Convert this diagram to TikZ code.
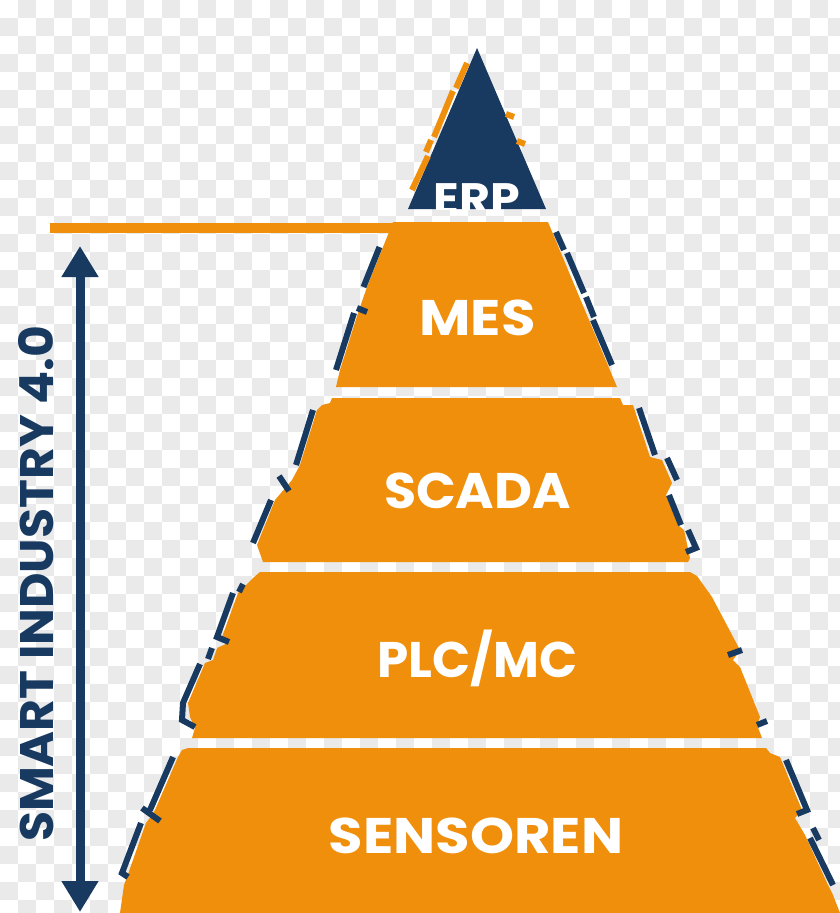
\documentclass[tikz,border=0pt]{standalone}
\usepackage{fontspec}
\setmainfont{Poppins}
\usetikzlibrary{arrows.meta}

\definecolor{pyrorange}{RGB}{240,143,12}
\definecolor{pyrnavy}{RGB}{24,58,96}
\definecolor{checkgray}{RGB}{234,234,234}

\tikzset{
    layer/.style={fill=pyrorange},
    toplayer/.style={fill=pyrnavy},
    levelname/.style={text=white, anchor=base, inner sep=0pt,
        font=\fontsize{50}{50}\selectfont\bfseries},
    glitch/.style={pyrnavy, line width=6pt},
    glitchor/.style={pyrorange, line width=6pt},
    orangebar/.style={pyrorange, line width=10pt},
    sidearrow/.style={pyrnavy, line width=9pt,
        {Triangle[width=35pt,length=31pt]}-{Triangle[width=35pt,length=31pt]}},
    sidetext/.style={text=pyrnavy, rotate=90, anchor=base, inner sep=0pt,
        font=\fontsize{47}{47}\selectfont\bfseries}
}

\begin{document}
\begin{tikzpicture}[x=1pt, y=-1pt]
    \useasboundingbox (0,0) rectangle (840,913);

    % --- Background checker ---
    \begin{scope}
        \clip (0,0) rectangle (840,913);
        \fill[white] (0,0) rectangle (840,913);
        \foreach \i in {0,...,46}{
            \foreach \j in {0,...,50}{
                \pgfmathtruncatemacro\odd{mod(\i+\j,2)}
                \ifnum\odd=1 \fill[checkgray] (\i*18,\j*18) rectangle ++(18,18); \fi
            }
        }
    \end{scope}

    % --- Coordinates ---
    % ERP tip
    \coordinate (erp_top) at (477,48);
    \coordinate (erp_bl) at (408,209);
    \coordinate (erp_br) at (546,209);
    % MES
    \coordinate (mes_tl) at (393,222);
    \coordinate (mes_tr) at (548,222);
    \coordinate (mes_br) at (617,387);
    \coordinate (mes_bl) at (336,387);
    % SCADA
    \coordinate (scada_tl) at (332,398);
    \coordinate (scada_tr) at (620,398);
    \coordinate (scada_br) at (688,562);
    \coordinate (scada_bl) at (263,562);
    % PLC/MC
    \coordinate (plc_tl) at (260,572);
    \coordinate (plc_tr) at (690,572);
    \coordinate (plc_br) at (762,738);
    \coordinate (plc_bl) at (192,738);
    % Sensoren
    \coordinate (sens_tl) at (188,748);
    \coordinate (sens_tr) at (766,748);
    \coordinate (sens_br) at (840,913);
    \coordinate (sens_bl) at (120,913);
    % Side arrow and bar
    \coordinate (arr_top) at (80,246);
    \coordinate (arr_bot) at (80,912);
    \coordinate (bar_left) at (50,228);
    \coordinate (bar_right) at (400,228);

    % --- Layers (jagged sides) ---
    \fill[toplayer] (erp_top) -- (erp_br) -- (erp_bl) -- cycle;
    \fill[layer] (mes_tl) -- (mes_tr) -- (mes_br) -- (mes_bl) -- (340,370) -- (358,313)
        -- (367,287) -- (383,247) -- cycle;
    \fill[layer] (scada_tl) -- (scada_tr) -- (623,405) -- (633,405) -- (650,457) -- (662,460)
        -- (672,483) -- (666,495) -- (678,525) -- (684,530) -- (690,558) -- (scada_br)
        -- (scada_bl) -- (257,545) -- (275,500) -- (292,480) -- (300,465) -- (317,410)
        -- (322,405) -- (330,403) -- cycle;
    \fill[layer] (plc_tl) -- (plc_tr) -- (697,576) -- (712,597) -- (740,650) -- (733,660)
        -- (740,667) -- (760,717) -- (757,725) -- (plc_br) -- (plc_bl) -- (195,728)
        -- (190,717) -- (188,703) -- (205,663) -- (213,660) -- (217,648) -- (228,643)
        -- (222,637) -- (238,593) -- (253,578) -- cycle;
    \fill[layer] (sens_tl) -- (sens_tr) -- (770,753) -- (780,757) -- (802,810) -- (795,818)
        -- (805,835) -- (828,885) -- (833,895) -- (sens_br) -- (sens_bl) -- (124,885)
        -- (127,877) -- (146,823) -- (152,815) -- (155,810) -- (178,757) -- (182,750) -- cycle;
    \draw[orangebar] (bar_left) -- (bar_right);

    % --- Glitch edges ---
    % ERP
    \draw[glitchor] (467,63) -- (456,88) (453,91) -- (434,137) (431,140) -- (426,152)
                    (428,156) -- (412,190);
    \draw[glitchor] (506,114) -- (514,117) (517,141) -- (525,144);
    % MES
    \draw[glitch] (379.5,247) -- (363.5,287) (357,308) -- (367,312) (354,313) -- (336,370);
    \draw[glitch] (556,232) -- (564,250) (567,253) -- (584,293) (586,297) -- (594,317)
                  (593,320) -- (612,365);
    % SCADA
    \draw[glitch] (313,410) -- (296,465) (279,476) -- (289,491) (271,500) -- (253,543);
    \draw[glitch] (639,408) -- (655,455) (667,458) -- (677,480) (669,495) -- (681,525)
                  (688,530) -- (696,548) -- (686,552);
    % PLC/MC
    \draw[glitch] (243,584) -- (239,592) (233,593) -- (217,637) -- (229,642) (212,648) -- (208,659)
                  (200,664) -- (183,703) -- (182,720) -- (195,727);
    \draw[glitch] (728,655) -- (742,650) (757,725) -- (767,721);
    % Sensoren
    \draw[glitch] (173,757) -- (150,810) (142,808) -- (160,821) (141,823) -- (122,873) -- (128,877);
    \draw[glitch] (786,760) -- (807,810) -- (797,814) (813,828) -- (819,840) (810,838) -- (833,885);

    % --- Labels ---
    \begin{scope}
        \clip (erp_top) -- (erp_br) -- (erp_bl) -- cycle;
        \node[levelname, font=\fontsize{44}{44}\selectfont\bfseries] (erp) at (477,214)
            {\scalebox{1.08}[1]{ERP}};
    \end{scope}
    \node[levelname] (mes) at (477.5,335) {\scalebox{1.12}[1]{MES}};
    \node[levelname] (scada) at (477.5,508) {\scalebox{1.045}[1]{SCADA}};
    \node[levelname] (plc) at (477.5,677) {PLC/MC};
    \node[levelname] (sens) at (476,853) {\scalebox{1.12}[1]{SENSOREN}};

    % --- Side arrow ---
    \draw[sidearrow] (arr_bot) -- (arr_top);
    \node[sidetext] (smart) at (53,584) {\scalebox{1.04}[1]{SMART INDUSTRY 4.0}};

\end{tikzpicture}
\end{document}
